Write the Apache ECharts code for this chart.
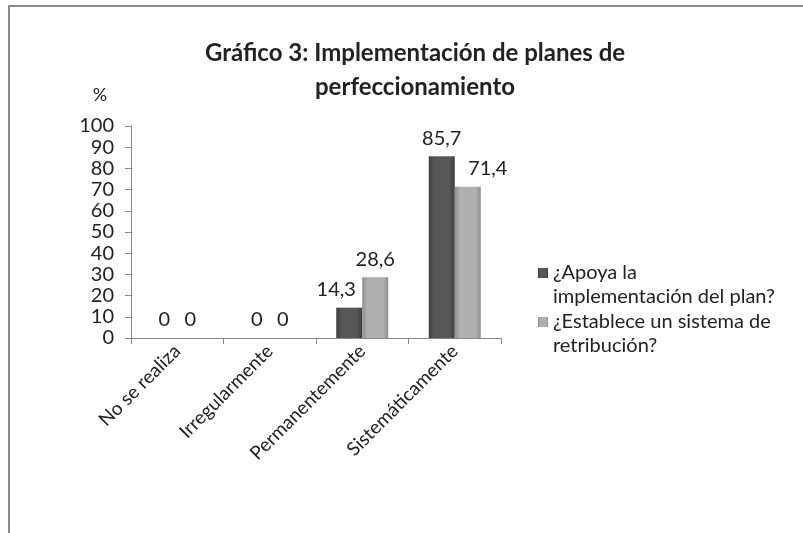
<!DOCTYPE html>
<html>
<head>
<meta charset="utf-8">
<script src="https://cdn.jsdelivr.net/npm/echarts@6/dist/echarts.min.js"></script>
<style>
  html, body { margin: 0; padding: 0; background: #fff; }
  #chart { width: 803px; height: 533px; }
</style>
</head>
<body>
<div id="chart"></div>
<script>
// datos
const categorias = ['No se realiza', 'Irregularmente', 'Permanentemente', 'Sistemáticamente'];
const apoyaPlan = [0, 0, 14.3, 85.7];
const retribucion = [0, 0, 28.6, 71.4];
const serieNombres = ['¿Apoya la implementación del plan?', '¿Establece un sistema de retribución?'];
const leyendaTextos = ['¿Apoya la\nimplementación del plan?', '¿Establece un sistema de\nretribución?'];

const fuente = 'Lato, "Open Sans", sans-serif';

function bevel(edge, mid) {
    return new echarts.graphic.LinearGradient(0, 0, 1, 0, [
        { offset: 0, color: edge },
        { offset: 0.2, color: mid },
        { offset: 0.8, color: mid },
        { offset: 1, color: edge }
    ]);
}

const chart = echarts.init(document.getElementById('chart'));

const etiqueta = {
    show: true, position: 'top', distance: 8,
    fontSize: 20, color: '#222', fontFamily: fuente,
    formatter: p => String(p.value).replace('.', ',')
};

const option = {
    backgroundColor: '#fff',
    animation: false,
    textStyle: { fontFamily: fuente, color: '#222' },
    graphic: [{
        type: 'rect',
        shape: { x: 9, y: 6, width: 820, height: 560 },
        style: { fill: 'none', stroke: '#8a8a8a', lineWidth: 2 },
        silent: true
    }],
    title: {
        text: 'Gráfico 3: Implementación de planes de\nperfeccionamiento',
        left: 410,
        top: 31,
        textAlign: 'center',
        textStyle: { fontFamily: fuente, fontSize: 24, fontWeight: 'bold', color: '#222', lineHeight: 34 }
    },
    legend: {
        orient: 'vertical',
        left: 533,
        top: 232,
        itemWidth: 10,
        itemHeight: 10,
        itemGap: -23,
        icon: 'rect',
        // línea vacía delante para que el icono quede junto a la primera línea
        formatter: name => '\n' + leyendaTextos[serieNombres.indexOf(name)],
        textStyle: { fontFamily: fuente, fontSize: 20, color: '#222', lineHeight: 24 }
    },
    grid: { left: 131, right: 302, top: 126, bottom: 195, containLabel: false },
    xAxis: {
        type: 'category',
        data: categorias,
        axisLine: { lineStyle: { color: '#888' } },
        axisTick: { show: true, length: 6, lineStyle: { color: '#888' } },
        axisLabel: { rotate: 45, fontSize: 19, color: '#222', fontFamily: fuente, margin: 10, interval: 0 }
    },
    yAxis: {
        type: 'value',
        min: 0,
        max: 100,
        interval: 10,
        name: '%',
        nameLocation: 'end',
        nameGap: 22,
        nameTextStyle: { fontFamily: fuente, fontSize: 18, color: '#222', padding: [0, 62, 0, 0] },
        axisLine: { show: true, lineStyle: { color: '#888' } },
        axisTick: { show: true, length: 6, lineStyle: { color: '#888' } },
        splitLine: { show: false },
        axisLabel: { fontSize: 20, color: '#222', fontFamily: fuente, margin: 17 }
    },
    series: [
        {
            name: serieNombres[0],
            type: 'bar',
            data: apoyaPlan.map((v, i) => i === 2
                ? { value: v, label: { offset: [-13, 0] } }
                : v),
            barWidth: 26,
            barGap: '0%',
            itemStyle: { color: bevel('#3c3c3c', '#575757') },
            label: etiqueta
        },
        {
            name: serieNombres[1],
            type: 'bar',
            data: retribucion.map((v, i) => i === 3
                ? { value: v, label: { offset: [20, 0] } }
                : v),
            barWidth: 26,
            itemStyle: { color: bevel('#8e8e8e', '#b0b0b0') },
            label: etiqueta
        }
    ]
};

chart.setOption(option);
</script>
</body>
</html>
